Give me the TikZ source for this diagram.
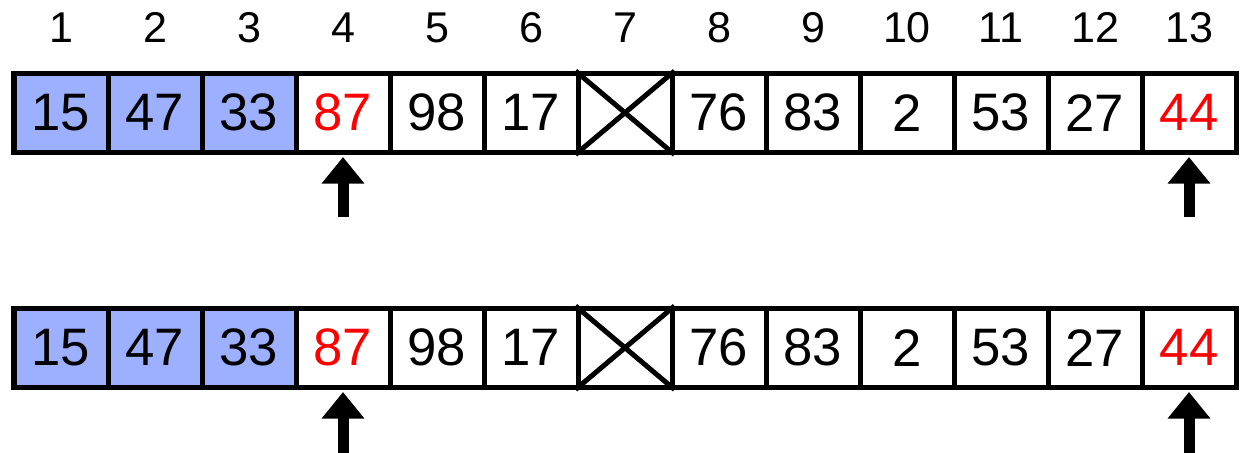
\documentclass[tikz,border=0pt]{standalone}
\usepackage{fontspec}
\setmainfont{Liberation Sans}
\usetikzlibrary{arrows.meta}
\definecolor{sorted}{HTML}{9DAFFF}
\definecolor{pick}{HTML}{FF0000}

\begin{document}
\begin{tikzpicture}[
  cell/.style={draw=black,line width=0.1cm,minimum width=1.88cm,
    minimum height=1.57cm,inner sep=0pt,font=\fontsize{30}{36}\selectfont},
  done/.style={cell,fill=sorted},
  marked/.style={cell,text=pick},
  index/.style={inner sep=0pt,font=\fontsize{24.5}{30}\selectfont},
  cross/.style={line width=0.1cm},
  pointer/.style={line width=0.22cm,shorten >=0.05cm,
    -{Triangle[width=0.82cm,length=0.53cm]}}
]
\useasboundingbox (0,0) rectangle (24.84,-9.06);

% positions above the first row
\node[index] (i1) at (1.22,-0.55) {1};
\node[index] (i2) at (3.10,-0.55) {2};
\node[index] (i3) at (4.98,-0.55) {3};
\node[index] (i4) at (6.86,-0.55) {4};
\node[index] (i5) at (8.74,-0.55) {5};
\node[index] (i6) at (10.62,-0.55) {6};
\node[index] (i7) at (12.50,-0.55) {7};
\node[index] (i8) at (14.38,-0.55) {8};
\node[index] (i9) at (16.26,-0.55) {9};
\node[index] (i10) at (18.14,-0.55) {10};
\node[index] (i11) at (20.02,-0.55) {11};
\node[index] (i12) at (21.90,-0.55) {12};
\node[index] (i13) at (23.78,-0.55) {13};

% first row
\node[done] (a1) at (1.22,-2.255) {15};
\node[done] (a2) at (3.10,-2.255) {47};
\node[done] (a3) at (4.98,-2.255) {33};
\node[marked] (a4) at (6.86,-2.255) {87};
\node[cell] (a5) at (8.74,-2.255) {98};
\node[cell] (a6) at (10.62,-2.255) {17};
\node[cell] (a7) at (12.50,-2.255) {};
\node[cell] (a8) at (14.38,-2.255) {76};
\node[cell] (a9) at (16.26,-2.255) {83};
\node[cell] (a10) at (18.14,-2.255) {2};
\node[cell] (a11) at (20.02,-2.255) {53};
\node[cell] (a12) at (21.90,-2.255) {27};
\node[marked] (a13) at (23.78,-2.255) {44};
\draw[cross] (a7.north west) -- (a7.south east);
\draw[cross] (a7.south west) -- (a7.north east);

% second row
\node[done] (b1) at (1.22,-6.955) {15};
\node[done] (b2) at (3.10,-6.955) {47};
\node[done] (b3) at (4.98,-6.955) {33};
\node[marked] (b4) at (6.86,-6.955) {87};
\node[cell] (b5) at (8.74,-6.955) {98};
\node[cell] (b6) at (10.62,-6.955) {17};
\node[cell] (b7) at (12.50,-6.955) {};
\node[cell] (b8) at (14.38,-6.955) {76};
\node[cell] (b9) at (16.26,-6.955) {83};
\node[cell] (b10) at (18.14,-6.955) {2};
\node[cell] (b11) at (20.02,-6.955) {53};
\node[cell] (b12) at (21.90,-6.955) {27};
\node[marked] (b13) at (23.78,-6.955) {44};
\draw[cross] (b7.north west) -- (b7.south east);
\draw[cross] (b7.south west) -- (b7.north east);

% pointers under the two compared cells
\coordinate (ta4) at (6.86,-4.34);
\coordinate (ta13) at (23.78,-4.34);
\coordinate (tb4) at (6.86,-9.06);
\coordinate (tb13) at (23.78,-9.06);
\draw[pointer] (ta4) -- (a4.south);
\draw[pointer] (ta13) -- (a13.south);
\draw[pointer] (tb4) -- (b4.south);
\draw[pointer] (tb13) -- (b13.south);
\end{tikzpicture}
\end{document}
